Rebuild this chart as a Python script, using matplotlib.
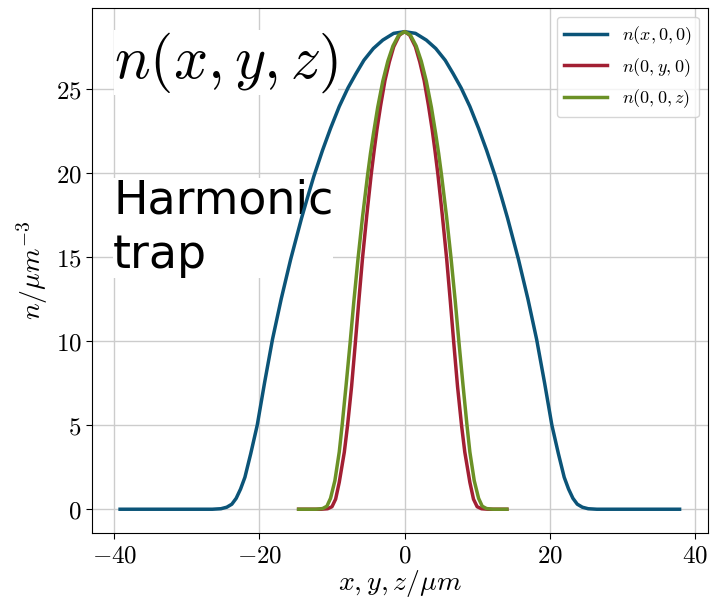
import matplotlib
matplotlib.use("Agg")
import matplotlib.pyplot as plt
from matplotlib.ticker import FuncFormatter

plt.rcParams["mathtext.fontset"] = "cm"
plt.rcParams["font.family"] = ["DejaVu Sans"]

# Density cuts through the trap centre (n in um^-3, positions in um)
x_pos = [-39.2, -30.0, -26.5, -25.3, -24.5, -23.8, -23.2, -22.6, -22.0, -21.2,
         -20.3, -19.3, -18.2, -17.0, -15.7, -14.2, -13.4, -12.5, -11.3, -10.2,
         -9.0, -7.8, -6.7, -5.6, -4.3, -3.0, -1.5, 0.0,
         1.5, 3.0, 4.3, 5.6, 6.7, 7.8, 9.0, 10.2, 11.3, 12.5, 13.4, 14.2,
         15.7, 17.0, 18.2, 19.3, 20.3, 21.2, 22.0, 22.6, 23.2, 23.8, 24.5,
         25.3, 26.5, 30.0, 37.9]
n_x = [0.0, 0.0, 0.0, 0.03, 0.12, 0.3, 0.65, 1.2, 1.9, 3.3,
       5.0, 7.5, 10.1, 12.5, 14.85, 17.3, 18.5, 19.8, 21.35, 22.65,
       23.95, 25.05, 25.9, 26.7, 27.4, 27.9, 28.3, 28.4,
       28.3, 27.9, 27.4, 26.7, 25.9, 25.05, 23.95, 22.65, 21.35, 19.8, 18.5, 17.3,
       14.85, 12.5, 10.1, 7.5, 5.0, 3.3, 1.9, 1.2, 0.65, 0.3, 0.12,
       0.03, 0.0, 0.0, 0.0]

y_pos = [-14.6, -11.5, -10.6, -10.0, -9.5, -9.0, -8.3, -7.85, -7.3, -6.8,
         -6.3, -5.8, -5.2, -4.6, -4.2, -3.8, -3.3, -2.7, -2.1, -1.5, -0.7, 0.0,
         0.7, 1.5, 2.1, 2.7, 3.3, 3.8, 4.2, 4.6, 5.2, 5.8, 6.3,
         6.8, 7.3, 7.85, 8.3, 9.0, 9.5, 10.0, 10.6, 11.5, 14.1]
n_y = [0.0, 0.0, 0.03, 0.15, 0.6, 1.6, 3.4, 5.0, 7.3, 9.8,
       12.4, 14.9, 17.5, 19.9, 21.3, 22.6, 24.0, 25.5, 26.6, 27.5, 28.2, 28.4,
       28.2, 27.5, 26.6, 25.5, 24.0, 22.6, 21.3, 19.9, 17.5, 14.9, 12.4,
       9.8, 7.3, 5.0, 3.4, 1.6, 0.6, 0.15, 0.03, 0.0, 0.0]

z_pos = [-14.6, -12.2, -11.3, -10.7, -10.2, -9.6, -9.0, -8.6, -8.05, -7.5,
         -7.0, -6.4, -5.8, -5.1, -4.7, -4.3, -3.7, -3.0, -2.3, -1.6, -0.8, 0.0,
         0.8, 1.6, 2.3, 3.0, 3.7, 4.3, 4.7, 5.1, 5.8, 6.4, 7.0,
         7.5, 8.05, 8.6, 9.0, 9.6, 10.2, 10.7, 11.3, 12.2, 14.1]
n_z = [0.0, 0.0, 0.04, 0.18, 0.65, 1.7, 3.4, 5.0, 7.4, 9.9,
       12.3, 14.95, 17.35, 19.85, 21.15, 22.3, 23.9, 25.45, 26.65, 27.55, 28.2, 28.4,
       28.2, 27.55, 26.65, 25.45, 23.9, 22.3, 21.15, 19.85, 17.35, 14.95, 12.3,
       9.9, 7.4, 5.0, 3.4, 1.7, 0.65, 0.18, 0.04, 0.0, 0.0]

labels = [r"$n(x,0,0)$", r"$n(0,y,0)$", r"$n(0,0,z)$"]
colors = ["#0B5478", "#A21F33", "#6B9126"]

fig = plt.figure(figsize=(7.14, 5.99), dpi=100)
ax = fig.add_axes([0.129, 0.110, 0.862, 0.877])

ax.plot(x_pos, n_x, color=colors[0], lw=2.5, label=labels[0], zorder=2)
ax.plot(y_pos, n_y, color=colors[1], lw=2.5, label=labels[1], zorder=2)
ax.plot(z_pos, n_z, color=colors[2], lw=2.5, label=labels[2], zorder=2)

ax.grid(True, color="#cccccc", lw=1.0)
ax.set_axisbelow(True)

ax.set_xticks([-40, -20, 0, 20, 40])
ax.set_yticks([0, 5, 10, 15, 20, 25])
fmt = FuncFormatter(lambda v, p: r"$%d$" % v)
ax.xaxis.set_major_formatter(fmt)
ax.yaxis.set_major_formatter(fmt)
ax.tick_params(labelsize=18, length=4, width=0.8)

ax.set_xlabel(r"$x,y,z/\mu m$", fontsize=20, labelpad=0)
ax.set_ylabel(r"$n/\mu m^{-3}$", fontsize=20, labelpad=4)

leg = ax.legend(loc="upper right", fontsize=13, handlelength=2.4,
                framealpha=0.8, borderaxespad=0.5)

ax.text(0.036, 0.867, r"$n(x,y,z)$", transform=ax.transAxes, fontsize=43,
        va="baseline", ha="left", zorder=1.8,
        bbox=dict(facecolor="white", edgecolor="none", pad=0))
ax.text(0.034, 0.486, "Harmonic\ntrap", transform=ax.transAxes, fontsize=33,
        va="bottom", ha="left", zorder=1.8, linespacing=1.28,
        family=["DejaVu Sans"],
        bbox=dict(facecolor="white", edgecolor="none", pad=0))

fig.savefig("out.png", dpi=100)
